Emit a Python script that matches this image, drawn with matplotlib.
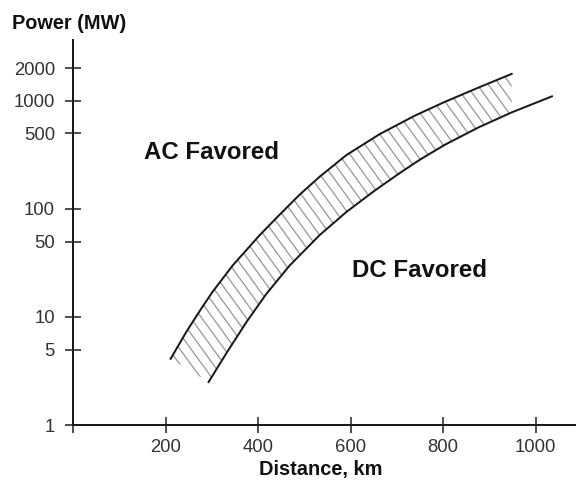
import numpy as np
import matplotlib
matplotlib.use("Agg")
import matplotlib.pyplot as plt
from matplotlib.patches import Polygon
from matplotlib.collections import LineCollection
from matplotlib.transforms import IdentityTransform

# Datos
# Curva superior (limite izquierdo de la banda)
upper_km = [211, 245, 274, 302, 345, 403, 447, 490, 533, 591, 663, 738, 803, 875, 948]
upper_mw = [4.1, 7.3, 11.4, 17.2, 30, 57, 89, 136, 199, 316, 494, 729, 979, 1324, 1782]

# Curva inferior (limite derecho de la banda)
lower_km = [293, 332, 375, 418, 468, 533, 591, 652, 706, 749, 803, 875, 948, 1035]
lower_mw = [2.5, 4.66, 9.0, 16.4, 29.9, 57.3, 94, 148, 215, 285, 392, 566, 784, 1104]

# Marcas de los ejes
x_ticks = [0, 200, 400, 600, 800, 1000]
x_labels = ["", "200", "400", "600", "800", "1000"]
y_ticks = [1, 5, 10, 50, 100, 500, 1000, 2000]
y_labels = ["1", "5", "10", "50", "100", "500", "1000", "2000"]

plt.rcParams["font.family"] = ["Liberation Sans", "DejaVu Sans"]

# a 72 dpi un punto = un pixel
fig = plt.figure(figsize=(8, 481 / 72), dpi=72)
ax = fig.add_axes([73 / 576, 56 / 481, 503 / 576, 385 / 481])

ax.set_yscale("log")
ax.set_xlim(0, 1087)
ax.set_ylim(1, 3670)

# banda entre las dos curvas (solo sirve de mascara para el rayado)
# el rayado termina donde termina la curva superior
lower_band = [(k, m) for k, m in zip(lower_km, lower_mw) if k <= upper_km[-1]]
verts = list(zip(upper_km, upper_mw)) + lower_band[::-1]
band = Polygon(verts, closed=True, facecolor="none", edgecolor="none")
ax.add_patch(band)

# rayado inclinado (~54 grados) recortado a la banda
ang = np.deg2rad(54)
d = np.array([np.cos(ang), -np.sin(ang)])
n = np.array([np.sin(ang), np.cos(ang)])
centro = np.array([288.0, 240.0])
segs = []
for c in np.arange(-700, 700, 9.0):
    p = centro + n * c
    segs.append([p - d * 700, p + d * 700])
rayas = LineCollection(segs, colors="#9a9a9a", linewidths=1.3,
                       transform=IdentityTransform())
ax.add_collection(rayas, autolim=False)
rayas.set_clip_path(band)

ax.plot(upper_km, upper_mw, color="#1a1a1a", linewidth=2)
ax.plot(lower_km, lower_mw, color="#1a1a1a", linewidth=2)

ax.set_xticks(x_ticks)
ax.set_xticklabels(x_labels)
ax.set_yticks(y_ticks)
ax.set_yticklabels(y_labels)
ax.yaxis.set_minor_locator(matplotlib.ticker.NullLocator())

ax.tick_params(axis="both", direction="inout", length=16, width=1.5,
               labelsize=18.5, labelcolor="#333333", color="#1a1a1a")
ax.tick_params(axis="y", pad=10)
ax.tick_params(axis="x", pad=6)

for side in ["top", "right"]:
    ax.spines[side].set_visible(False)
for side in ["left", "bottom"]:
    ax.spines[side].set_linewidth(2)
    ax.spines[side].set_color("#1a1a1a")

# textos
ax.text(300, 337, "AC Favored", fontsize=24, fontweight="bold",
        ha="center", va="center", color="#111111")
ax.text(749, 26.7, "DC Favored", fontsize=24, fontweight="bold",
        ha="center", va="center", color="#111111")
fig.text(12 / 576, 1 - 23.5 / 481, "Power (MW)", fontsize=20, fontweight="bold",
         ha="left", va="center", color="#111111")
fig.text(321 / 576, 1 - 470 / 481, "Distance, km", fontsize=20, fontweight="bold",
         ha="center", va="center", color="#111111")

fig.savefig("out.png", dpi=72, facecolor="white")
